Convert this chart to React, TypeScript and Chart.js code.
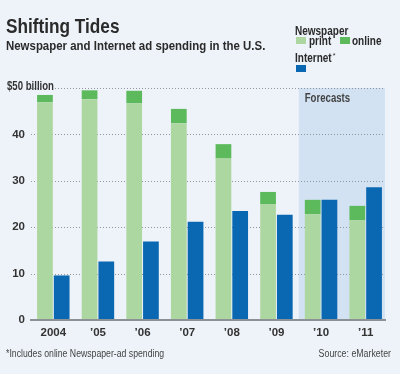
import React, { useEffect, useRef } from "react";
import { Chart, registerables } from "chart.js";

Chart.register(...registerables);

const categories = ["2004", "’05", "’06", "’07", "’08", "’09", "’10", "’11"];
const printValues = [46.9, 47.6, 46.7, 42.4, 34.8, 24.9, 22.8, 21.5];
const onlineValues = [1.6, 1.9, 2.7, 3.1, 3.1, 2.7, 3.1, 3.1];
const internetValues = [9.6, 12.6, 16.9, 21.2, 23.5, 22.7, 25.9, 28.6];
const yTicks = [0, 10, 20, 30, 40, 50];
const topTickLabel = "$50 billion";
const forecastStartIndex = 6;

const FONT = "'Liberation Sans', Arial, sans-serif";
const BG = "#eef3f9";
const SHADE = "#d2e2f3";
const PRINT = "#acd7a0";
const ONLINE = "#5cb95c";
const BLUE = "#0a67b2";
const TEXT = "#333333";

function txt(ctx: any, s: string, x: number, y: number, font: string, sx: number, color: string, align: string = "left", baseline: string = "alphabetic") {
  ctx.save();
  ctx.font = font;
  ctx.fillStyle = color;
  ctx.textAlign = align;
  ctx.textBaseline = baseline;
  ctx.translate(x, y);
  ctx.scale(sx, 1);
  ctx.fillText(s, 0, 0);
  const w = ctx.measureText(s).width * sx;
  ctx.restore();
  return w;
}

const decorPlugin = {
  id: "decor",
  beforeDraw(chart: any) {
    const { ctx, chartArea, scales } = chart;
    const x = scales.x;
    const y = scales.y;
    ctx.save();
    ctx.fillStyle = BG;
    ctx.fillRect(0, 0, chart.width, chart.height);
    // forecast shade
    const half = (x.getPixelForValue(1) - x.getPixelForValue(0)) / 2;
    const sx = x.getPixelForValue(forecastStartIndex) - half;
    const ex = chartArea.right - 3;
    const top = y.getPixelForValue(50);
    const bottom = y.getPixelForValue(0);
    ctx.fillStyle = SHADE;
    ctx.fillRect(sx, top, ex - sx, bottom - top);
    // grid
    ctx.strokeStyle = "#8f969e";
    ctx.lineWidth = 1;
    ctx.setLineDash([1, 2]);
    yTicks.forEach((v) => {
      if (v === 0) return;
      const py = Math.round(y.getPixelForValue(v)) + 0.5;
      ctx.beginPath();
      ctx.moveTo(chartArea.left, py);
      ctx.lineTo(chartArea.right - 3, py);
      ctx.stroke();
    });
    ctx.setLineDash([]);
    ctx.restore();

    const dark = "#2a2a2a";
    // titles
    txt(ctx, "Shifting Tides", 6, 33, `bold 21px ${FONT}`, 0.82, dark);
    txt(ctx, "Newspaper and Internet ad spending in the U.S.", 6, 50, `bold 13px ${FONT}`, 0.88, dark);
    // legend
    txt(ctx, "Newspaper", 295, 35, `bold 12.5px ${FONT}`, 0.8, dark);
    ctx.save();
    ctx.fillStyle = PRINT;
    ctx.fillRect(296, 37, 10, 7);
    ctx.fillStyle = ONLINE;
    ctx.fillRect(340, 37, 10, 7);
    ctx.fillStyle = BLUE;
    ctx.fillRect(296, 65, 10, 7);
    ctx.restore();
    txt(ctx, "print", 309, 44.5, `bold 12.5px ${FONT}`, 0.8, dark);
    txt(ctx, "online", 352, 44.5, `bold 12.5px ${FONT}`, 0.8, dark);
    const iw = txt(ctx, "Internet", 295, 62, `bold 12.5px ${FONT}`, 0.8, dark);
    txt(ctx, "*", 295 + iw + 1, 58, `7px ${FONT}`, 1, dark);
    // top tick label
    txt(ctx, topTickLabel, 7, top - 1, `bold 12px ${FONT}`, 0.8, TEXT, "left", "middle");
    // forecasts
    txt(ctx, "Forecasts", sx + 6, top + 11, `bold 12px ${FONT}`, 0.8, "#444", "left", "middle");
    // footer
    txt(ctx, "*Includes online Newspaper-ad spending", 6, 357, `10px ${FONT}`, 0.87, "#444");
    txt(ctx, "Source: eMarketer", 391, 357, `10px ${FONT}`, 0.88, "#444", "right");
  },
  afterDatasetsDraw(chart: any) {
    const { ctx, chartArea, scales } = chart;
    const py = scales.y.getPixelForValue(0);
    ctx.save();
    ctx.strokeStyle = "#8c9196";
    ctx.lineWidth = 2;
    ctx.beginPath();
    ctx.moveTo(chartArea.left - 1, py);
    ctx.lineTo(chartArea.right - 2, py);
    ctx.stroke();
    ctx.restore();
  },
};

export default function App() {
  const ref = useRef<HTMLCanvasElement>(null);
  useEffect(() => {
    if (!ref.current) return;
    const chart = new Chart(ref.current, {
      type: "bar",
      data: {
        labels: categories,
        datasets: [
          { label: "print", data: printValues, backgroundColor: PRINT, stack: "news" },
          { label: "online", data: onlineValues, backgroundColor: ONLINE, stack: "news" },
          { label: "Internet", data: internetValues, backgroundColor: BLUE, stack: "internet" },
        ],
      },
      options: {
        responsive: false,
        animation: false,
        events: [],
        datasets: { bar: { categoryPercentage: 0.75, barPercentage: 0.94 } },
        layout: { padding: { top: 88, right: 12, left: 0, bottom: 0 } },
        plugins: { legend: { display: false }, tooltip: { enabled: false }, title: { display: false } },
        scales: {
          x: {
            stacked: true,
            grid: { display: false, drawTicks: false },
            border: { display: false },
            ticks: { color: TEXT, padding: 6, font: { family: FONT, size: 11.5, weight: "bold" } },
            afterFit: (s: any) => { s.height = 54; },
          },
          y: {
            stacked: true,
            min: 0,
            max: 50,
            afterBuildTicks: (s: any) => { s.ticks = yTicks.map((v) => ({ value: v })); },
            grid: { display: false, drawTicks: false },
            border: { display: false },
            ticks: {
              color: TEXT,
              padding: 6,
              font: { family: FONT, size: 11.5, weight: "bold" },
              callback: (v: any) => (v === 50 ? "" : String(v)),
            },
            afterFit: (s: any) => { s.width = 31; },
          },
        },
      },
      plugins: [decorPlugin],
    });
    return () => chart.destroy();
  }, []);
  return (
    <div style={{ position: "fixed", left: 0, top: 0, width: 400, height: 374 }}>
      <canvas ref={ref} width={400} height={374} style={{ width: 400, height: 374, display: "block" }} />
    </div>
  );
}
